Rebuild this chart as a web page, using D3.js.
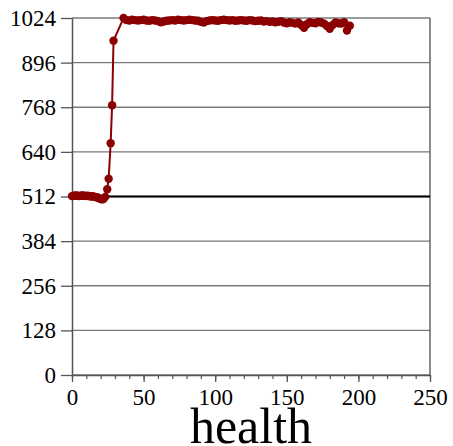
<!DOCTYPE html>
<html>
<head>
<meta charset="utf-8">
<script src="https://cdn.jsdelivr.net/npm/d3@7"></script>
<style>
  body { margin: 0; background: #fff; }
  svg text { font-family: "Liberation Serif", "Times New Roman", serif; fill: #000; }
</style>
</head>
<body>
<div id="chart"></div>
<script>
// data
var rampX = [0, 1, 2, 3, 4, 5, 6, 7, 8, 9, 10, 11, 12, 13, 14, 15, 16, 17, 18, 19, 20, 21, 22, 23.2,
    24.6, 25.6, 27, 28, 29, 36];
var rampY = [513, 514, 514, 515, 514, 513, 514, 515, 514, 514, 513, 514, 513, 512, 513, 512, 511, 510, 509, 507, 505, 504, 505, 511,
    533, 563, 665, 774, 959, 1024];
var plateauX = [38, 40, 42, 44, 46, 48, 50, 52, 54, 56,
    58, 60, 62, 64, 66, 68, 70, 72, 74, 76,
    78, 80, 82, 84, 86, 88, 90, 92, 94, 96,
    98, 100, 102, 104, 106, 108, 110, 112, 114, 116,
    118, 120, 122, 124, 126, 128, 130, 132, 134, 136,
    138, 140, 142, 144, 146, 148, 150, 152, 154, 156,
    158, 160, 162, 164, 166, 168, 170, 172, 174, 176,
    178, 180, 182, 184, 186, 188, 190, 192, 194];
var plateauY = [1018, 1017, 1019, 1018, 1017, 1018, 1019, 1017, 1016, 1018,
    1017, 1015, 1012, 1014, 1016, 1017, 1018, 1017, 1019, 1018,
    1017, 1018, 1019, 1018, 1017, 1016, 1013, 1011, 1015, 1017,
    1018, 1017, 1016, 1018, 1019, 1018, 1017, 1018, 1016, 1017,
    1018, 1017, 1016, 1018, 1017, 1015, 1016, 1017, 1014, 1015,
    1013, 1014, 1012, 1013, 1015, 1011, 1009, 1012, 1010, 1008,
    1011, 1004, 996, 1006, 1012, 1010, 1009, 1013, 1011, 1008,
    1001, 993, 1004, 1011, 1009, 1008, 1012, 988, 1002];
var yTicks = [0, 128, 256, 384, 512, 640, 768, 896, 1024];
var xTicks = [0, 50, 100, 150, 200, 250];
var xLabel = "health";
var refLine = 512;

var svgWidth = 453;
var svgHeight = 446;
var margin = { top: 18, right: 23, bottom: 71, left: 72 };
var width = svgWidth - margin.left - margin.right;
var height = svgHeight - margin.top - margin.bottom;

var svg = d3.select('#chart')
    .append('svg')
    .attr('width', svgWidth)
    .attr('height', svgHeight);
var chart = svg.append('g')
    .attr('transform', 'translate(' + margin.left + ',' + margin.top + ')');

var xScale = d3.scaleLinear().domain([0, 250]).range([0, width]);
var yScale = d3.scaleLinear().domain([0, 1024]).range([height, 0]);

var data = [];
rampX.forEach(function (x, i) { data.push({ x: x, y: rampY[i] }); });
plateauX.forEach(function (x, i) { data.push({ x: x, y: plateauY[i] }); });

// grid lines
chart.append('g')
    .selectAll('line')
    .data(yTicks)
    .enter()
    .append('line')
    .attr('x1', 0)
    .attr('x2', width)
    .attr('y1', function (d) { return yScale(d); })
    .attr('y2', function (d) { return yScale(d); })
    .attr('stroke', '#7a7a7a')
    .attr('stroke-width', 1.4);

// right border
chart.append('line')
    .attr('x1', width).attr('x2', width)
    .attr('y1', 0).attr('y2', height)
    .attr('stroke', '#666')
    .attr('stroke-width', 1.5);

function styleAxis(g) {
    g.attr('font-family', 'Liberation Serif').attr('font-size', 23);
    g.select('.domain').attr('stroke', '#555').attr('stroke-width', 1.5);
    g.selectAll('line').attr('stroke', '#555').attr('stroke-width', 1.3);
    g.selectAll('text')
        .style('font-family', '"Liberation Serif", serif')
        .style('font-size', '23px');
}

// minor x ticks
chart.append('g')
    .attr('transform', 'translate(0,' + height + ')')
    .call(d3.axisBottom(xScale).tickValues(d3.range(0, 251, 10)).tickSize(4).tickFormat(''))
    .call(function (g) {
        g.select('.domain').remove();
        g.selectAll('text').remove();
        g.selectAll('line').attr('stroke', '#555').attr('stroke-width', 1.2);
    });

// x axis
chart.append('g')
    .attr('transform', 'translate(0,' + height + ')')
    .call(d3.axisBottom(xScale).tickValues(xTicks).tickSize(7).tickPadding(7).tickSizeOuter(0).tickFormat(d3.format('d')))
    .call(styleAxis);

// y axis
chart.append('g')
    .call(d3.axisLeft(yScale).tickValues(yTicks).tickSize(11).tickPadding(5).tickSizeOuter(0).tickFormat(d3.format('d')))
    .call(styleAxis);

// reference line at 512
chart.append('line')
    .attr('x1', 0)
    .attr('x2', width)
    .attr('y1', yScale(refLine))
    .attr('y2', yScale(refLine))
    .attr('stroke', '#000')
    .attr('stroke-width', 2.2);

// series line
var line = d3.line()
    .x(function (d) { return xScale(d.x); })
    .y(function (d) { return yScale(d.y); });

chart.append('path')
    .datum(data)
    .attr('d', line)
    .attr('fill', 'none')
    .attr('stroke', '#8b0000')
    .attr('stroke-width', 2);

chart.selectAll('circle')
    .data(data)
    .enter()
    .append('circle')
    .attr('cx', function (d) { return xScale(d.x); })
    .attr('cy', function (d) { return yScale(d.y); })
    .attr('r', 4.2)
    .attr('fill', '#8b0000');

// x label
svg.append('text')
    .attr('x', margin.left + width / 2)
    .attr('y', 443)
    .attr('text-anchor', 'middle')
    .style('font-family', '"Liberation Serif", serif')
    .style('font-size', '50px')
    .text(xLabel);
</script>
</body>
</html>
